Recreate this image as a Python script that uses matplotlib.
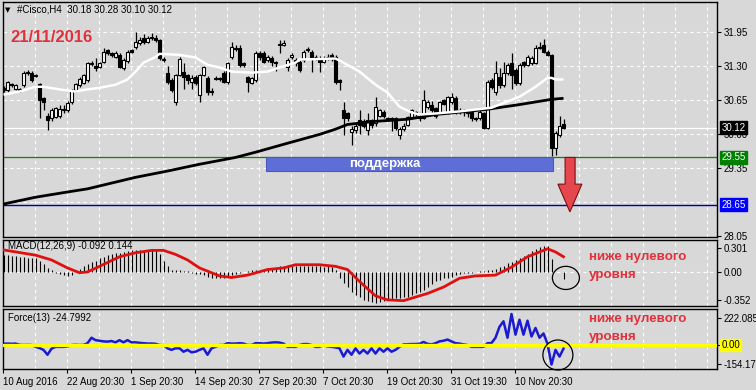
import numpy as np
import matplotlib
matplotlib.use("Agg")
import matplotlib.pyplot as plt
from matplotlib.patches import Rectangle, Ellipse, Polygon

plt.rcParams['font.family'] = ['Liberation Sans', 'DejaVu Sans']

# ---- data (Cisco H4) ----
opens = [30.88, 30.83, 30.95, 30.85, 30.85, 30.93, 31.18, 31.16, 31.10, 30.95,
         30.68, 30.35, 30.30, 30.33, 30.35, 30.45, 30.45, 30.60, 30.83, 30.93,
         30.97, 31.03, 31.34, 31.30, 31.28, 31.38, 31.60, 31.55, 31.47, 31.51,
         31.26, 31.39, 31.60, 31.66, 31.74, 31.83, 31.76, 31.84, 31.83, 31.80,
         31.44, 31.16, 31.03, 30.60, 31.12, 31.18, 31.12, 30.99, 31.08, 30.74,
         31.12, 31.07, 30.82, 31.05, 31.06, 31.16, 30.99, 31.47, 31.65, 31.64,
         31.35, 31.08, 30.97, 31.03, 31.55, 31.55, 31.41, 31.45, 31.37, 31.72,
         31.70, 31.28, 31.46, 31.41, 31.37, 31.41, 31.60, 31.56, 31.47, 31.45,
         31.38, 31.46, 31.50, 31.47, 31.03, 30.45, 30.39, 30.03, 30.07, 30.26,
         30.25, 30.07, 30.26, 30.20, 30.35, 30.42, 30.30, 30.29, 30.30, 29.97,
         30.10, 30.17, 30.32, 30.41, 30.35, 30.31, 30.51, 30.55, 30.49, 30.41,
         30.64, 30.41, 30.61, 30.68, 30.43, 30.41, 30.42, 30.41, 30.30, 30.30,
         30.39, 30.12, 31.03, 30.80, 31.08, 30.93, 31.16, 31.35, 31.22, 30.97,
         31.37, 31.32, 31.35, 31.35, 31.66, 31.70, 31.57, 31.51, 29.74, 29.97,
         30.18]
highs = [30.92, 31.02, 30.98, 30.96, 30.87, 31.20, 31.22, 31.20, 31.14, 30.98,
         30.70, 30.40, 30.50, 30.52, 30.55, 30.55, 30.62, 30.86, 30.98, 31.08,
         31.15, 31.38, 31.40, 31.45, 31.38, 31.65, 31.62, 31.57, 31.58, 31.55,
         31.45, 31.60, 31.63, 31.95, 31.85, 31.90, 31.87, 31.92, 31.88, 31.82,
         31.46, 31.30, 31.06, 31.15, 31.47, 31.35, 31.15, 31.12, 31.12, 31.15,
         31.30, 31.10, 30.88, 31.10, 31.08, 31.20, 31.38, 31.75, 31.70, 31.70,
         31.37, 31.10, 31.08, 31.58, 31.58, 31.58, 31.50, 31.48, 31.40, 31.80,
         31.80, 31.45, 31.55, 31.45, 31.42, 31.60, 31.66, 31.60, 31.50, 31.48,
         31.48, 31.52, 31.55, 31.50, 31.05, 30.60, 30.42, 30.15, 30.20, 30.45,
         30.28, 30.40, 30.29, 30.70, 30.48, 30.45, 30.33, 30.33, 30.33, 30.13,
         30.20, 30.35, 30.48, 30.44, 30.38, 30.83, 30.65, 30.62, 30.52, 30.63,
         30.67, 30.73, 30.78, 30.72, 30.50, 30.48, 30.45, 30.44, 30.33, 30.45,
         30.42, 31.03, 31.06, 31.40, 31.25, 31.38, 31.35, 31.55, 31.25, 31.35,
         31.40, 31.50, 31.48, 31.70, 31.75, 31.82, 31.60, 31.53, 30.05, 30.35,
         30.28]
lows = [30.80, 30.80, 30.90, 30.83, 30.80, 30.90, 31.12, 31.00, 31.08, 30.30,
        30.45, 30.07, 30.25, 30.30, 30.30, 30.40, 30.42, 30.58, 30.80, 30.90,
        30.95, 31.00, 31.30, 31.20, 31.25, 31.35, 31.50, 31.47, 31.45, 31.25,
        31.22, 31.35, 31.55, 31.62, 31.70, 31.72, 31.73, 31.80, 31.76, 31.42,
        31.38, 30.95, 30.80, 30.55, 31.10, 30.85, 30.95, 30.85, 30.93, 30.60,
        31.10, 30.75, 30.75, 31.03, 31.02, 30.97, 30.95, 31.44, 31.58, 31.28,
        31.28, 30.80, 30.95, 31.00, 31.42, 31.35, 31.38, 31.30, 31.20, 31.55,
        31.68, 31.20, 31.44, 31.30, 31.18, 31.38, 31.56, 31.18, 31.42, 31.18,
        31.35, 31.42, 31.40, 30.95, 30.83, 29.97, 30.25, 29.78, 30.02, 30.00,
        30.12, 29.97, 30.12, 30.15, 30.32, 30.30, 30.24, 30.05, 30.08, 29.90,
        30.05, 30.15, 30.28, 30.35, 30.25, 30.28, 30.48, 30.37, 30.30, 30.38,
        30.55, 30.38, 30.58, 30.38, 30.38, 30.35, 30.33, 30.25, 30.24, 30.27,
        30.10, 30.10, 30.85, 30.75, 30.88, 30.90, 31.12, 30.85, 30.93, 30.94,
        31.28, 31.30, 31.32, 31.33, 31.62, 31.55, 31.48, 29.58, 29.60, 29.95,
        30.10]
closes = [30.83, 30.99, 30.93, 30.93, 30.83, 31.16, 31.17, 31.03, 31.12, 30.64,
          30.60, 30.26, 30.45, 30.49, 30.48, 30.47, 30.59, 30.83, 30.95, 31.05,
          31.12, 31.35, 31.36, 31.26, 31.35, 31.57, 31.54, 31.51, 31.55, 31.28,
          31.41, 31.57, 31.57, 31.76, 31.80, 31.76, 31.83, 31.85, 31.79, 31.45,
          31.42, 30.99, 30.83, 31.12, 31.43, 31.08, 31.03, 31.07, 30.97, 31.12,
          31.27, 30.80, 30.80, 31.07, 31.05, 30.99, 31.35, 31.66, 31.63, 31.32,
          31.32, 30.99, 31.06, 31.55, 31.46, 31.37, 31.47, 31.37, 31.36, 31.70,
          31.73, 31.41, 31.50, 31.35, 31.22, 31.56, 31.61, 31.47, 31.46, 31.37,
          31.45, 31.47, 31.44, 30.99, 30.99, 30.31, 30.30, 30.10, 30.16, 30.17,
          30.16, 30.26, 30.17, 30.51, 30.45, 30.35, 30.28, 30.30, 30.12, 30.10,
          30.16, 30.32, 30.45, 30.40, 30.30, 30.64, 30.60, 30.45, 30.35, 30.60,
          30.58, 30.70, 30.70, 30.41, 30.45, 30.45, 30.40, 30.30, 30.28, 30.41,
          30.12, 30.99, 30.90, 31.16, 30.93, 31.16, 31.32, 31.12, 30.97, 31.32,
          31.32, 31.47, 31.45, 31.64, 31.64, 31.57, 31.51, 29.74, 30.01, 30.16,
          30.12]

ma_fast_idx = [0, 4, 8, 10, 14, 18, 21, 24, 28, 31, 33, 35, 38, 39, 44, 48, 51, 54,
               57, 62, 66, 69, 73, 74, 83, 85, 89, 93, 96, 99, 102, 104, 108, 114,
               122, 129, 133, 136, 137, 138, 140]
ma_fast = [30.75, 30.81, 30.90, 30.90, 30.85, 30.81, 30.85, 30.88, 30.94, 31.04,
           31.19, 31.36, 31.47, 31.53, 31.51, 31.46, 31.32, 31.27, 31.19, 31.17,
           31.19, 31.27, 31.36, 31.42, 31.44, 31.36, 31.19, 30.94, 30.79, 30.52,
           30.41, 30.37, 30.39, 30.43, 30.50, 30.71, 30.90, 31.07, 31.07, 31.04,
           31.04]
ma_slow_idx = [0, 8, 16, 21, 33, 41, 49, 58, 63, 70, 79, 83, 86, 93, 101, 105, 108,
               116, 121, 129, 137, 140]
ma_slow = [28.66, 28.79, 28.89, 28.95, 29.17, 29.29, 29.42, 29.55, 29.65, 29.80,
           29.99, 30.09, 30.18, 30.24, 30.28, 30.33, 30.37, 30.43, 30.47, 30.56,
           30.66, 30.68]

macd_hist = [0.21, 0.21, 0.20, 0.20, 0.19, 0.19, 0.18, 0.18, 0.17, 0.14, 0.10,
             0.05, 0.02, -0.01, -0.03, -0.04, -0.05, -0.04,
             0.01, 0.04, 0.07, 0.10, 0.12, 0.14, 0.17, 0.19, 0.21, 0.22, 0.24, 0.24,
             0.25, 0.26, 0.27, 0.28, 0.28, 0.28, 0.28, 0.28, 0.27, 0.23, 0.14,
             0.07, 0.03, 0.02, 0.02, 0.01, 0.01, -0.01, -0.02, -0.03, -0.04, -0.06,
             -0.07, -0.08, -0.07, -0.07, -0.06, -0.04, -0.03, -0.01, 0.00,
             0.01, 0.02, 0.03, 0.02, 0.03, 0.04, 0.05, 0.05, 0.07, 0.08, 0.09, 0.09,
             0.08, 0.07, 0.08, 0.08, 0.07, 0.08, 0.07, 0.06, 0.07, 0.06,
             0.02, -0.08, -0.14, -0.19, -0.25, -0.29, -0.32, -0.35, -0.37, -0.38,
             -0.39, -0.38, -0.37, -0.35, -0.34, -0.33, -0.33, -0.32,
             -0.31, -0.29, -0.27, -0.25, -0.23, -0.19, -0.15, -0.12, -0.10, -0.08,
             -0.07, -0.06, -0.04, -0.02, -0.01, -0.01, -0.01, 0.00, 0.01, 0.01,
             0.02, 0.03,
             0.04, 0.06, 0.08, 0.11, 0.13, 0.15, 0.18, 0.20, 0.23, 0.26, 0.29, 0.31,
             0.33, 0.33, 0.16, 0.0, 0.0, -0.09]
signal_idx = [0, 8, 12, 16, 19, 21, 24, 29, 33, 37, 40, 43, 46, 49, 54, 57, 61, 66,
              70, 73, 79, 83, 86, 89, 93, 96, 100, 106, 110, 114, 118, 123, 127,
              131, 134, 136, 138, 140]
signal = [0.276, 0.21, 0.15, 0.05, -0.01, 0.00, 0.07, 0.19, 0.24, 0.27, 0.27,
          0.22, 0.15, 0.05, -0.05, -0.07, -0.04, 0.03, 0.05, 0.09, 0.09, 0.07,
          0.03, -0.12, -0.30, -0.35, -0.36, -0.27, -0.19, -0.08, -0.05, -0.04,
          0.06, 0.19, 0.25, 0.29, 0.25, 0.19]

force = [10, 12, 10, 12, 2, 0, 1, 0,
         -15, -25, -40, -80, -30, -15, -15, -15, -12,
         0, 2, 0, 1,
         15, 60, 40, 35, 30, 28, 33, 22, 40, 22, 40, 22, 22, 18, 15, 12, 12, 10,
         0, -2,
         -27, -40, -27, -27, -55, -40, -60, -55, -40, -27, -80, -27, -15,
         0, 0,
         15, 12, 12, 15, 12, 0,
         0, 15, 15, 12, 15, 20, 22, 20, 12,
         -15, -15, -15, 0, 8, 8, 0, -15, -15, 0, -12, -15,
         -20, -27, -95, -40, -80, -27, -70, -40, -70, -27, -70, -27, -55, -27, -55,
         -40, -15,
         5, 6, 8, 8, 10, 25, 10, 5, 15, 30, 35, 45, 30, 15, 12, 5, 0, -15, -15,
         -15, -15, 15, 16,
         60, 150, 195, 60, 255, 85, 208, 85, 200, 70, 140, 60, 95, 10, -160, -40,
         -95, -30]

date_idx = [0, 16, 32, 48, 64, 80, 96, 112, 128]
date_labels = ['10 Aug 2016', '22 Aug 20:30', '1 Sep 20:30', '14 Sep 20:30',
               '27 Sep 20:30', '7 Oct 20:30', '19 Oct 20:30', '31 Oct 19:30',
               '10 Nov 20:30']
price_ticks = [31.95, 31.30, 30.65, 30.00, 29.35, 28.05]
price_grid = [31.95, 31.30, 30.65, 30.00, 29.35, 28.70]
support, target, last = 29.55, 28.65, 30.12

# ---- layout (pixel based, 756x390) ----
W, H = 756, 390
def fx(x):
    return x / W
def fy(y):
    return 1 - y / H

BG = '#d8d8d8'
RED = '#e0313c'
fig = plt.figure(figsize=(W / 100, H / 100), dpi=100, facecolor=BG)

ax = fig.add_axes([fx(3), fy(237), 714 / W, 235 / H])
ax2 = fig.add_axes([fx(3), fy(306), 714 / W, 66 / H])
ax3 = fig.add_axes([fx(3), fy(369), 714 / W, 60 / H])

xl = (-0.125, 178.375)
grid_x = np.arange(8, 179, 8) - 0.125
for a in (ax, ax2, ax3):
    a.set_facecolor(BG)
    a.set_xlim(*xl)
    for s in a.spines.values():
        s.set_color('black')
        s.set_linewidth(1)
    for gx in grid_x:
        a.axvline(gx, color='white', lw=0.8, ls=(0, (3, 3)), zorder=0.5)
    a.yaxis.tick_right()
    a.tick_params(axis='y', length=3, width=0.8, pad=2, labelsize=7, colors='black')
    a.tick_params(axis='x', length=0, labelbottom=False)

# ---- main price pane ----
ax.set_ylim(28.03, 32.52)
for gy in price_grid:
    ax.axhline(gy, color='white', lw=0.8, ls=(0, (3, 3)), zorder=0.5)
ax.set_yticks(price_ticks)
ax.set_yticklabels(['%.2f' % v for v in price_ticks])

ax.axhline(last, color='white', lw=0.9, zorder=1)
ax.axhline(support, color='#108010', lw=0.9, zorder=1)
ax.axhline(target, color='#0000a0', lw=1.0, zorder=1)

ax.add_patch(Rectangle((65.6, 29.29), 71.8, support - 29.29, facecolor='#5e6ed6',
                       edgecolor='#4a58c0', lw=0.8, zorder=1.2))

idx = np.arange(len(closes))
o, h, l, c = map(np.array, (opens, highs, lows, closes))
ax.vlines(idx, l, h, color='black', lw=0.9, zorder=3)
up = c >= o
body = np.maximum(np.abs(c - o), 0.015)
ax.bar(idx[up], body[up], bottom=np.minimum(o, c)[up], width=0.7,
       color='white', edgecolor='black', lw=0.8, zorder=4)
ax.bar(idx[~up], body[~up], bottom=np.minimum(o, c)[~up], width=0.7,
       color='black', edgecolor='black', lw=0.8, zorder=4)

ax.plot(ma_slow_idx, ma_slow, color='black', lw=2.0, zorder=5, solid_capstyle='butt')
ax.plot(ma_fast_idx, ma_fast, color='white', lw=1.8, zorder=5, solid_capstyle='butt')

# red arrow down to target
arrow = Polygon([(140.4, support), (142.9, support), (142.9, 29.04), (144.6, 29.04),
                 (141.6, 28.51), (138.6, 29.04), (140.4, 29.04)],
                closed=True, facecolor='#e6474f', edgecolor='#7a1010', lw=0.8, zorder=6)
ax.add_patch(arrow)

ytr = ax.get_yaxis_transform()
for val, fc, tc in [(last, 'black', 'white'), (support, '#008000', 'white'),
                    (target, '#0000ff', 'white')]:
    ax.text(1.006, val, '%.2f' % val, transform=ytr, fontsize=7, color=tc,
            va='center', ha='left', clip_on=False, zorder=10,
            bbox=dict(boxstyle='square,pad=0.15', fc=fc, ec=fc))

# ---- MACD pane ----
ax2.set_ylim(-0.427, 0.40)
ax2.axhline(0, color='white', lw=0.8, ls=(0, (3, 3)), zorder=0.5)
ax2.vlines(idx, 0, macd_hist, color='black', lw=0.8, zorder=2)
ax2.plot(signal_idx, signal, color='#e01010', lw=2.0, zorder=3)
ax2.set_yticks([0.301, 0.0, -0.352])
ax2.set_yticklabels(['0.301', '0.00', '-0.352'])
ax2.add_patch(Ellipse((140.6, -0.075), 6.75, 0.29, fill=False, ec='black', lw=0.9,
                      zorder=6, clip_on=False))

# ---- Force pane ----
ax3.set_ylim(-197, 296)
ax3.plot(idx, force, color='#1a1ad0', lw=1.8, zorder=2)
ax3.axhline(0, color='#ffff00', lw=2.4, zorder=3)
ax3.set_yticks([222.0857, 0.0, -154.172])
ax3.set_yticklabels(['222.0857', '', '-154.172'])
ax3.text(1.006, 0, '0.00', transform=ax3.get_yaxis_transform(), fontsize=7,
         va='center', ha='left', clip_on=False,
         bbox=dict(boxstyle='square,pad=0.15', fc='#ffff00', ec='#ffff00'))
ax3.add_patch(Ellipse((138.6, -82), 7.5, 247, fill=False, ec='black', lw=0.9,
                      zorder=6, clip_on=False))
ax3.set_xticks(np.array(date_idx) - 0.125)
ax3.set_xticklabels(date_labels, fontsize=7, ha='left')
ax3.tick_params(axis='x', length=3, width=0.8, pad=3, labelbottom=True)

# ---- texts ----
fig.text(fx(5), fy(10), '\u25bc', fontsize=5, va='center', family='DejaVu Sans')
fig.text(fx(17), fy(10), '#Cisco,H4  30.18 30.28 30.10 30.12', fontsize=7, va='center')
fig.text(fx(10), fy(37), '21/11/2016', fontsize=12, fontweight='bold', color=RED,
         va='center')
fig.text(fx(385), fy(164), 'поддержка', fontsize=9.5, fontweight='bold', color='white',
         va='center', ha='center')
fig.text(fx(8), fy(246), 'MACD(12,26,9) -0.092 0.144', fontsize=7, va='center')
fig.text(fx(8), fy(318), 'Force(13) -24.7992', fontsize=7, va='center')
for y0 in (257, 319):
    fig.text(fx(589), fy(y0), 'ниже нулевого', fontsize=9.6, fontweight='bold',
             color=RED, va='center')
    fig.text(fx(589), fy(y0 + 18), 'уровня', fontsize=9.6, fontweight='bold',
             color=RED, va='center')

fig.savefig('out.png', dpi=100, facecolor=BG)
